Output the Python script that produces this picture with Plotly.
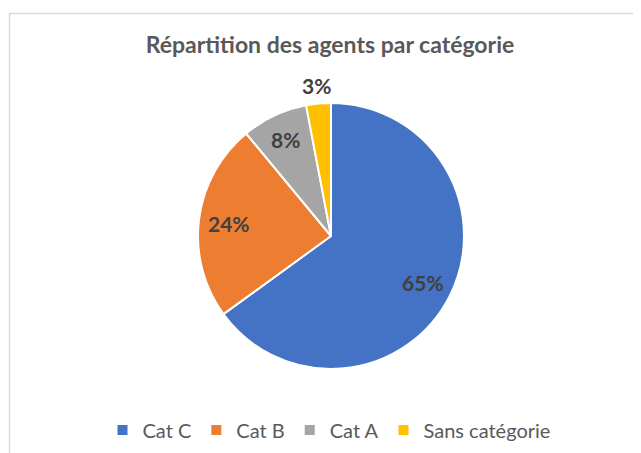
import math
import plotly.graph_objects as go

categories = ["Cat C", "Cat B", "Cat A", "Sans catégorie"]
values = [65, 24, 8, 3]
colors = ["#4472C4", "#ED7D31", "#A5A5A5", "#FFC000"]
text_positions = ["inside", "inside", "inside", "none"]

W, H = 641, 453
OFF = 8  # page body margin shifts everything by 8px
cx, cy, r = 331 - OFF, 236 - OFF, 133
dom = dict(x=[(cx - r) / W, (cx + r) / W], y=[1 - (cy + r) / H, 1 - (cy - r) / H])

label_font = dict(family="Lato", size=21, color="#404040", weight="bold")

fig = go.Figure()
# Main pie (slices)
fig.add_trace(go.Pie(
    labels=categories,
    values=values,
    sort=False,
    direction="clockwise",
    rotation=0,
    marker=dict(colors=colors, line=dict(color="white", width=2)),
    textinfo="none",
    domain=dom,
    hoverinfo="label+percent",
))
# Transparent overlay ring used only to place the percentage labels further out
fig.add_trace(go.Pie(
    labels=categories,
    values=values,
    sort=False,
    direction="clockwise",
    rotation=0,
    hole=0.55,
    marker=dict(colors=["rgba(0,0,0,0)"] * len(values), line=dict(width=0)),
    texttemplate="%{percent:.0%}",
    textposition=text_positions,
    insidetextorientation="horizontal",
    textfont=label_font,
    insidetextfont=label_font,
    outsidetextfont=label_font,
    domain=dom,
    showlegend=False,
    hoverinfo="skip",
))

# Outside label for the small last slice, centred on its bisector
total = sum(values)
cum = sum(values[:-1])
theta = 2 * math.pi * (cum + values[-1] / 2) / total
r_lab = r + 18
lx = cx + r_lab * math.sin(theta)
ly = cy - r_lab * math.cos(theta)
annotations = [dict(x=lx / W, y=1 - ly / H, xref="paper", yref="paper", showarrow=False,
                    text=f"<b>{round(100 * values[-1] / total)}%</b>", font=label_font,
                    xanchor="center", yanchor="middle")]

fig.update_layout(
    width=W, height=H,
    margin=dict(l=0, r=0, t=0, b=0),
    paper_bgcolor="white",
    title=dict(text="<b>Répartition des agents par catégorie</b>", x=(330 - OFF) / W, xanchor="center",
               y=1 - (45 - OFF) / H, yanchor="middle",
               font=dict(family="Lato", size=23, color="#595959")),
    showlegend=True,
    legend=dict(orientation="h", x=(329 - OFF) / W, xanchor="center", y=1 - (430 - OFF) / H, yanchor="middle",
                font=dict(family="Lato", size=20, color="#595959"), itemwidth=30,
                traceorder="normal"),
    annotations=annotations,
    shapes=[dict(type="rect", xref="paper", yref="paper", x0=(9.5 - OFF) / W, y0=-0.05, x1=1.05,
                 y1=1 - (13.5 - OFF) / H,
                 line=dict(color="#D9D9D9", width=1.5), fillcolor="rgba(0,0,0,0)", layer="below")],
)

fig.write_html("out.html")
